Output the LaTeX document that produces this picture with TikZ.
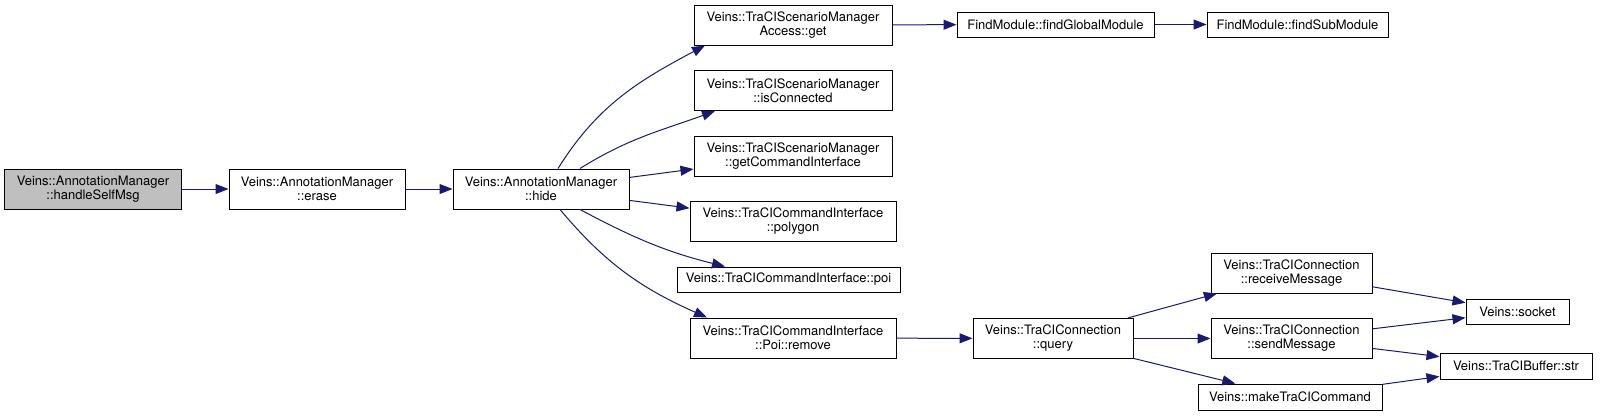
\documentclass[tikz,border=0pt]{standalone}
\usepackage{fontspec}
\setmainfont{TeX Gyre Heros}
\usetikzlibrary{arrows.meta}
\definecolor{callblue}{HTML}{191970}
\definecolor{curgray}{HTML}{BFBFBF}
\begin{document}
\begin{tikzpicture}[x=1bp,y=-1bp,
    fn/.style={draw=black,line width=1bp,fill=white,inner sep=0pt,align=center,
        minimum height=40bp,font=\fontsize{13bp}{14bp}\selectfont},
    fnone/.style={fn,minimum height=25bp},
    call/.style={draw=callblue,line width=1bp,-{Triangle[length=13bp,width=10bp]}}]
    \useasboundingbox (0,0) rectangle (1600,416);

    \node[fn,fill=curgray,minimum width=176bp] (hsm) at (93,189) {Veins::AnnotationManager\\::handleSelfMsg};
    \node[fn,minimum width=176bp] (erase) at (317,189) {Veins::AnnotationManager\\::erase};
    \node[fn,minimum width=176bp] (hide) at (541,189) {Veins::AnnotationManager\\::hide};

    \node[fn,minimum width=198bp] (get) at (793,25) {Veins::TraCIScenarioManager\\Access::get};
    \node[fn,minimum width=198bp] (isc) at (793,90.5) {Veins::TraCIScenarioManager\\::isConnected};
    \node[fn,minimum width=198bp] (gci) at (793,156) {Veins::TraCIScenarioManager\\::getCommandInterface};
    \node[fn,minimum width=206bp] (poly) at (793,221.5) {Veins::TraCICommandInterface\\::polygon};
    \node[fnone,minimum width=223bp] (poi) at (788.5,279.5) {Veins::TraCICommandInterface::poi};
    \node[fn,minimum width=206bp] (rem) at (793,338) {Veins::TraCICommandInterface\\::Poi::remove};

    \node[fnone,minimum width=197bp] (glob) at (1055.5,24.5) {FindModule::findGlobalModule};
    \node[fnone,minimum width=181bp] (sub) at (1297.5,24.5) {FindModule::findSubModule};

    \node[fn,minimum width=160bp] (query) at (1053,338.5) {Veins::TraCIConnection\\::query};
    \node[fn,minimum width=161bp] (recv) at (1291.5,273) {Veins::TraCIConnection\\::receiveMessage};
    \node[fn,minimum width=161bp] (send) at (1291.5,338.5) {Veins::TraCIConnection\\::sendMessage};
    \node[fnone,minimum width=184bp,minimum height=26bp] (make) at (1290,397) {Veins::makeTraCICommand};

    \node[fnone,minimum width=103bp] (sock) at (1517.5,311.5) {Veins::socket};
    \node[fnone,minimum width=152bp,minimum height=26bp] (str) at (1516,366) {Veins::TraCIBuffer::str};

    \foreach \a/\b in {hsm/erase,erase/hide,hide/gci,hide/poly,get/glob,glob/sub,rem/query,
        query/recv,query/send,query/make,recv/sock,send/sock,send/str,make/str}
        {\draw[call] (\a) -- (\b);}

    \draw[call] ([xshift=17bp]hide.north) to[out=58,in=208] ([xshift=-88bp]get.south);
    \draw[call] ([xshift=39bp]hide.north) to[out=32,in=200] ([xshift=-78bp]isc.south);
    \draw[call] ([xshift=39bp]hide.south) to[out=-28,in=166] ([xshift=-63.5bp]poi.north);
    \draw[call] ([xshift=19bp]hide.south) to[out=-50,in=156] ([xshift=-86bp]rem.north);
\end{tikzpicture}
\end{document}
